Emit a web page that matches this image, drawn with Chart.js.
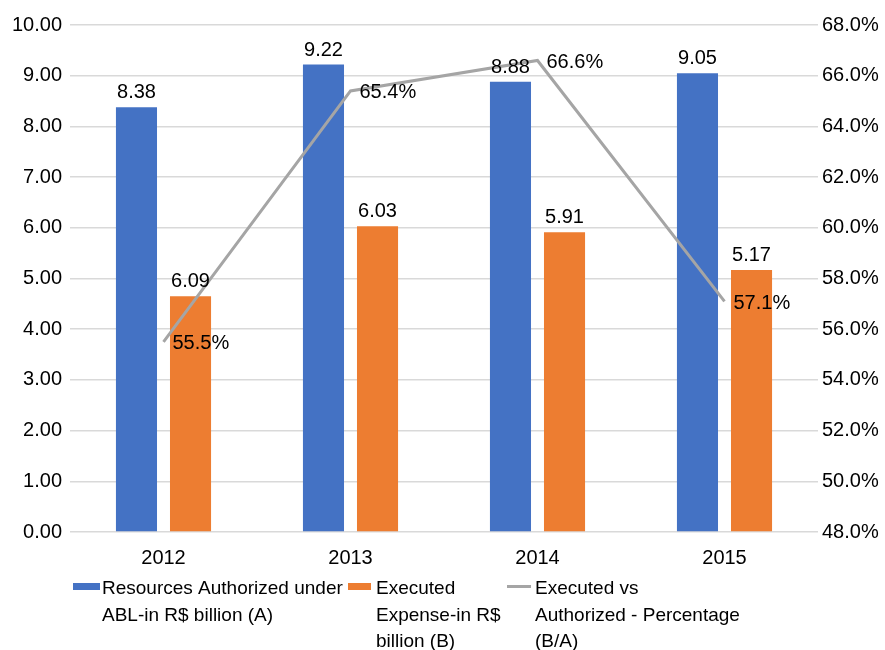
<!DOCTYPE html>
<html>
<head>
<meta charset="utf-8">
<script src="https://cdn.jsdelivr.net/npm/chart.js@4/dist/chart.umd.min.js"></script>
<style>
  html, body { margin: 0; padding: 0; background: #fff; }
</style>
</head>
<body>
<canvas id="chart" width="885" height="650"></canvas>
<script>
// ---- data ----
const YEARS = ["2012", "2013", "2014", "2015"];

// bar heights as drawn (2012 executed bar is drawn lower than its label says)
const AUTHORIZED = [8.38, 9.22, 8.88, 9.05];
const EXECUTED = [4.65, 6.03, 5.91, 5.17];

// label text printed above the bars
const AUTHORIZED_LABELS = ["8.38", "9.22", "8.88", "9.05"];
const EXECUTED_LABELS = ["6.09", "6.03", "5.91", "5.17"];

const PERCENT = [55.5, 65.4, 66.6, 57.1];

const LEGEND_LINES = [
  ["Resources Authorized under", "ABL-in R$ billion (A)"],
  ["Executed", "Expense-in R$", "billion (B)"],
  ["Executed vs", "Authorized - Percentage", "(B/A)"]
];

const FONT = "'Liberation Sans', Arial, sans-serif";
const FONT_SIZE = 20;       // ticks and data labels
const LEGEND_FONT_SIZE = 19;
const BLUE = "#4472C4";
const ORANGE = "#ED7D31";
const GRAY = "#A5A5A5";

// ------------------------------------

// value labels on bars and line points
const valueLabels = {
  id: "valueLabels",
  afterDatasetsDraw(chart) {
    const ctx = chart.ctx;
    ctx.save();
    ctx.font = `${FONT_SIZE}px ${FONT}`;
    ctx.fillStyle = "#000";

    const barTexts = [AUTHORIZED_LABELS, EXECUTED_LABELS];
    [0, 1].forEach(di => {
      const meta = chart.getDatasetMeta(di);
      meta.data.forEach((bar, i) => {
        ctx.textAlign = "center";
        ctx.textBaseline = "alphabetic";
        ctx.fillText(barTexts[di][i], bar.x, bar.y - 9);
      });
    });

    const lineMeta = chart.getDatasetMeta(2);
    lineMeta.data.forEach((pt, i) => {
      ctx.textAlign = "left";
      ctx.textBaseline = "middle";
      ctx.fillText(PERCENT[i].toFixed(1) + "%", pt.x + 9, pt.y + 2);
    });
    ctx.restore();
  }
};

// legend with wrapped text, laid out like the original
const wrappedLegend = {
  id: "wrappedLegend",
  afterDraw(chart) {
    const ctx = chart.ctx;
    const items = [
      { kind: "box", color: BLUE, x: 73, w: 27, textX: 102 },
      { kind: "box", color: ORANGE, x: 348, w: 23, textX: 376 },
      { kind: "line", color: GRAY, x: 507, w: 24, textX: 535 }
    ];
    const firstBaseline = 594;
    const lineHeight = 26.5;
    ctx.save();
    ctx.font = `${LEGEND_FONT_SIZE}px ${FONT}`;
    ctx.textAlign = "left";
    ctx.textBaseline = "alphabetic";
    items.forEach((it, k) => {
      if (it.kind === "box") {
        ctx.fillStyle = it.color;
        ctx.fillRect(it.x, 583, it.w, 7);
      } else {
        ctx.strokeStyle = it.color;
        ctx.lineWidth = 3;
        ctx.beginPath();
        ctx.moveTo(it.x, 586.5);
        ctx.lineTo(it.x + it.w, 586.5);
        ctx.stroke();
      }
      ctx.fillStyle = "#000";
      LEGEND_LINES[k].forEach((t, j) => {
        ctx.fillText(t, it.textX, firstBaseline + j * lineHeight);
      });
    });
    ctx.restore();
  }
};

const chart = new Chart(document.getElementById("chart"), {
  type: "bar",
  data: {
    labels: YEARS,
    datasets: [
      {
        label: LEGEND_LINES[0].join(" "),
        data: AUTHORIZED,
        backgroundColor: BLUE,
        yAxisID: "y",
        order: 1,
        categoryPercentage: 0.578,
        barPercentage: 0.76
      },
      {
        label: LEGEND_LINES[1].join(" "),
        data: EXECUTED,
        backgroundColor: ORANGE,
        yAxisID: "y",
        order: 1,
        categoryPercentage: 0.578,
        barPercentage: 0.76
      },
      {
        type: "line",
        label: LEGEND_LINES[2].join(" "),
        data: PERCENT,
        borderColor: GRAY,
        borderWidth: 3,
        pointRadius: 0,
        tension: 0,
        yAxisID: "y1",
        order: 0
      }
    ]
  },
  options: {
    responsive: false,
    maintainAspectRatio: false,
    devicePixelRatio: 1,
    animation: false,
    layout: { padding: { top: 25, left: 0, right: 0, bottom: 0 } },
    plugins: {
      legend: { display: false },
      tooltip: { enabled: false }
    },
    scales: {
      x: {
        grid: { display: false },
        border: { display: false },
        ticks: {
          color: "#000",
          font: { family: FONT, size: FONT_SIZE },
          padding: 6
        },
        afterFit(scale) { scale.height = 118; }
      },
      y: {
        position: "left",
        min: 0,
        max: 10,
        ticks: {
          stepSize: 1,
          color: "#000",
          font: { family: FONT, size: FONT_SIZE },
          padding: 8,
          callback: v => v.toFixed(2)
        },
        grid: { color: "#d9d9d9", lineWidth: 1.5, drawTicks: false },
        border: { display: false },
        afterFit(scale) { scale.width = 70; }
      },
      y1: {
        position: "right",
        min: 48,
        max: 68,
        ticks: {
          stepSize: 2,
          color: "#000",
          font: { family: FONT, size: FONT_SIZE },
          padding: 4,
          callback: v => v.toFixed(1) + "%"
        },
        grid: { display: false, drawTicks: false },
        border: { display: false },
        afterFit(scale) { scale.width = 67; }
      }
    }
  },
  plugins: [valueLabels, wrappedLegend]
});
</script>
</body>
</html>
